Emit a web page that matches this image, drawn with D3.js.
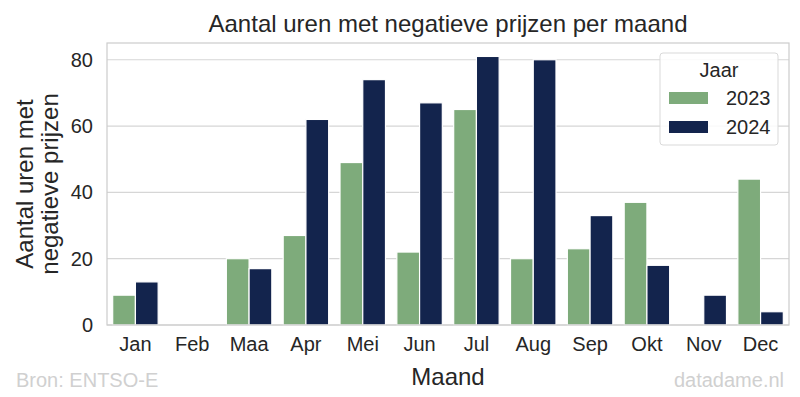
<!DOCTYPE html>
<html><head><meta charset="utf-8">
<script src="https://cdn.jsdelivr.net/npm/d3@7"></script>
<style>body{margin:0;background:#fff}svg{display:block;font-family:Arial,"Liberation Sans",sans-serif}</style>
</head><body>
<script>
const months = ["Jan","Feb","Maa","Apr","Mei","Jun","Jul","Aug","Sep","Okt","Nov","Dec"];
const years = ["2023","2024"];
const values2023 = [9,0,20,27,49,22,65,20,23,37,0,44];
const values2024 = [13,0,17,62,74,67,81,80,33,18,9,4];
const yTicks = [0,20,40,60,80];
const colors = ["#7eab7b","#13244d"];

const W=800,H=397;
const m={l:107,r:11,t:43,b:72};
const svg=d3.select("body").append("svg").attr("width",W).attr("height",H);
const x=d3.scaleBand().domain(months).range([m.l,W-m.r]).paddingInner(0.2).paddingOuter(0.1);
const x1=d3.scaleBand().domain(years).range([0,x.bandwidth()]);
const y=d3.scaleLinear().domain([0,85.05]).range([H-m.b,m.t]);

// grid
svg.append("g").selectAll("line").data(yTicks).join("line")
 .attr("x1",m.l).attr("x2",W-m.r).attr("y1",d=>y(d)).attr("y2",d=>y(d))
 .attr("stroke","#d6d6d6").attr("stroke-width",1.2);

const series=[values2023,values2024];
const g=svg.append("g");
years.forEach((yr,i)=>{
  g.selectAll(null).data(months).join("rect")
   .attr("x",d=>x(d)+x1(yr)).attr("width",x1.bandwidth())
   .attr("y",(d,j)=>y(series[i][j])).attr("height",(d,j)=>y(0)-y(series[i][j]))
   .attr("fill",colors[i]).attr("stroke","#fff").attr("stroke-width",1.2);
});

// frame
svg.append("rect").attr("x",m.l).attr("y",m.t).attr("width",W-m.r-m.l).attr("height",H-m.b-m.t)
 .attr("fill","none").attr("stroke","#cccccc").attr("stroke-width",1.2);

// axes
const ya=svg.append("g").attr("transform",`translate(${m.l},0)`).call(d3.axisLeft(y).tickValues(yTicks).tickSize(0).tickPadding(14));
ya.select(".domain").remove();
ya.selectAll("text").attr("font-size",20).attr("fill","#262626").attr("font-family","Arial,'Liberation Sans',sans-serif");
const xa=svg.append("g").attr("transform",`translate(0,${H-m.b})`).call(d3.axisBottom(x).tickSize(0).tickPadding(12));
xa.select(".domain").remove();
xa.selectAll("text").attr("font-size",20).attr("fill","#262626").attr("font-family","Arial,'Liberation Sans',sans-serif");

// title
svg.append("text").attr("x",(m.l+W-m.r)/2).attr("y",32).attr("text-anchor","middle")
 .attr("font-size",24).attr("fill","#262626").text("Aantal uren met negatieve prijzen per maand");
// axis labels
svg.append("text").attr("x",(m.l+W-m.r)/2).attr("y",385).attr("text-anchor","middle")
 .attr("font-size",24).attr("fill","#262626").text("Maand");
const yl=svg.append("text").attr("transform","translate(0,184) rotate(-90)").attr("text-anchor","middle")
 .attr("font-size",24).attr("fill","#262626");
yl.append("tspan").attr("x",0).attr("y",33).text("Aantal uren met");
yl.append("tspan").attr("x",0).attr("y",58).text("negatieve prijzen");

// legend
const lg=svg.append("g");
lg.append("rect").attr("x",660).attr("y",53).attr("width",118).attr("height",92).attr("rx",3)
 .attr("fill","#fff").attr("fill-opacity",0.85).attr("stroke","#d9d9d9").attr("stroke-width",1);
lg.append("text").attr("x",719).attr("y",77).attr("text-anchor","middle").attr("font-size",20).attr("fill","#262626").text("Jaar");
years.forEach((yr,i)=>{
  lg.append("rect").attr("x",669).attr("y",92+i*29).attr("width",39).attr("height",12).attr("fill",colors[i]);
  lg.append("text").attr("x",726).attr("y",105+i*29).attr("font-size",20).attr("fill","#262626").text(yr);
});

// footer
svg.append("text").attr("x",16).attr("y",387).attr("font-size",20).attr("fill","#d0d0d0").text("Bron: ENTSO-E");
svg.append("text").attr("x",784).attr("y",387).attr("text-anchor","end").attr("font-size",20).attr("fill","#d0d0d0").text("datadame.nl");
</script>
</body></html>
